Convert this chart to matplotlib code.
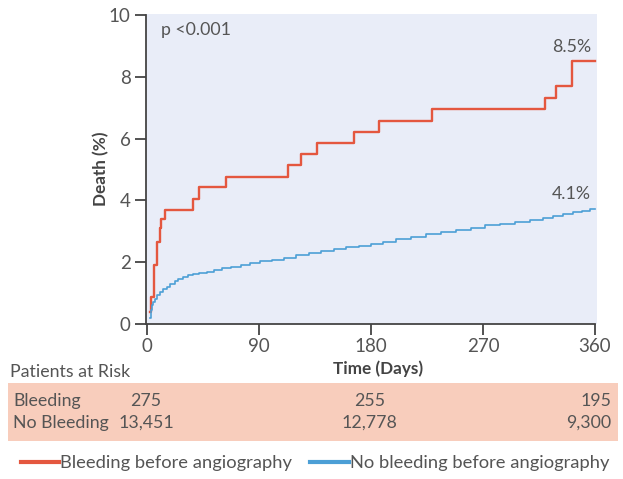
import matplotlib
matplotlib.use("Agg")
import matplotlib.pyplot as plt
import matplotlib.transforms as mtransforms
from matplotlib.lines import Line2D
from matplotlib.patches import Rectangle

# ---- data ----
red_t = [2.0, 2.8, 5.1, 7.8, 10.0, 11.0, 14.5, 36.4, 42.0, 63.5, 112.8, 123.8,
         136.9, 166.4, 186.0, 228.9, 320.0, 328.5, 341.9, 360]
red_v = [0.4, 0.87, 1.9, 2.65, 3.1, 3.4, 3.7, 4.05, 4.45, 4.75, 5.14, 5.5,
         5.87, 6.23, 6.58, 6.97, 7.3, 7.7, 8.5, 8.5]

blue_t = [2.4, 3, 3.8, 5, 6.4, 8, 10.5, 13, 15.5, 18.5, 22, 25, 29, 33, 37, 42, 48,
          54, 60, 67, 75, 83, 91, 100, 110, 120, 130, 140, 150, 160, 170, 180, 190,
          200, 212, 224, 236, 248, 260, 272, 284, 296, 308, 318, 326, 334, 342, 350,
          356, 360]
blue_v = [0.18, 0.45, 0.6, 0.72, 0.82, 0.93, 1.03, 1.12, 1.2, 1.3, 1.38, 1.45, 1.52,
          1.57, 1.61, 1.65, 1.68, 1.74, 1.8, 1.86, 1.9, 1.96, 2.03, 2.08, 2.14, 2.22,
          2.29, 2.36, 2.42, 2.48, 2.53, 2.58, 2.65, 2.75, 2.83, 2.92, 2.98, 3.05,
          3.12, 3.2, 3.25, 3.3, 3.36, 3.43, 3.48, 3.56, 3.62, 3.67, 3.72, 3.72]

x_ticks = [0, 90, 180, 270, 360]
y_ticks = [0, 2, 4, 6, 8, 10]

series_names = ["Bleeding before angiography", "No bleeding before angiography"]
end_labels = ["8.5%", "4.1%"]
end_label_y = [8.95, 4.2]

risk_groups = ["Bleeding", "No Bleeding"]
risk_times = [0, 180, 360]
risk_bleeding = ["275", "255", "195"]
risk_no_bleeding = ["13,451", "12,778", "9,300"]

# ---- style ----
FONT = ["Liberation Sans Narrow", "Lato", "DejaVu Sans"]
plt.rcParams["font.family"] = FONT
TXT = "#555555"
RED = "#e4573f"
BLUE = "#4c9fd6"
BG = "#e9edf8"
SALMON = "#f8cdbc"
FS = 12.8

W, H = 623, 479
fig = plt.figure(figsize=(W / 100, H / 100), dpi=100)
ax = fig.add_axes([146 / W, (H - 324) / H, (597 - 146) / W, (324 - 13.5) / H])
ax.set_facecolor(BG)

ax.plot(red_t, red_v, drawstyle="steps-post", color=RED, lw=1.7)
ax.plot(blue_t, blue_v, drawstyle="steps-post", color=BLUE, lw=1.2)

ax.set_xlim(-1, 361.7)
ax.set_ylim(0, 10.05)
ax.set_xticks(x_ticks)
ax.set_yticks(y_ticks)
for s in ["top", "right"]:
    ax.spines[s].set_visible(False)
for s in ["left", "bottom"]:
    ax.spines[s].set_color("#444444")
    ax.spines[s].set_linewidth(1.3)
ax.spines["bottom"].set_bounds(-1, 360)
ax.spines["left"].set_bounds(0, 10)
ax.tick_params(axis="both", direction="out", length=8, width=1.3, color="#444444",
               labelcolor=TXT, labelsize=13.5)
ax.tick_params(axis="y", pad=3)
ax.tick_params(axis="x", pad=2)
ax.set_xlabel("Time (Days)", fontsize=12.3, color="#444444", fontweight="bold")
ax.xaxis.set_label_coords(0.515, -0.117)
ax.set_ylabel("Death (%)", fontsize=12.3, color="#444444", fontweight="bold")
ax.yaxis.set_label_coords(-0.082, 0.5)

ax.text(0.034, 0.947, "p <0.001", transform=ax.transAxes, fontsize=FS,
        color=TXT, ha="left", va="center")
for lab, yv in zip(end_labels, end_label_y):
    ax.text(357, yv, lab, fontsize=FS, color=TXT, ha="right", va="center")

# ---- patients at risk ----
fig.text(10 / W, 1 - 372 / H, "Patients at Risk", fontsize=FS, color=TXT,
         ha="left", va="center")
fig.patches.append(Rectangle((7.5 / W, 1 - 441 / H), (618 - 7.5) / W, (441 - 383) / H,
                             transform=fig.transFigure, facecolor=SALMON,
                             edgecolor="none", zorder=-1))
blend = mtransforms.blended_transform_factory(ax.transData, fig.transFigure)
row_y = [1 - 401 / H, 1 - 423 / H]
for name, y in zip(risk_groups, row_y):
    fig.text(13 / W, y, name, fontsize=FS, color=TXT, ha="left", va="center")
for vals, y in zip([risk_bleeding, risk_no_bleeding], row_y):
    for t, v in zip(risk_times, vals):
        if t == 360:
            fig.text(373, y, v, transform=blend, fontsize=FS, color=TXT,
                     ha="right", va="center")
        else:
            fig.text(t - 1, y, v, transform=blend, fontsize=FS,
                     color=TXT, ha="center", va="center")

# ---- legend ----
handles = [Line2D([], [], color=RED, lw=3), Line2D([], [], color=BLUE, lw=3)]
leg = fig.legend(handles, series_names, loc="center",
                 bbox_to_anchor=(315 / W, 1 - 463 / H),
                 ncol=2, frameon=False, fontsize=13.2, handlelength=2.1,
                 handletextpad=0.05, columnspacing=1.0, labelcolor=TXT)

fig.savefig("out.png", dpi=100)
